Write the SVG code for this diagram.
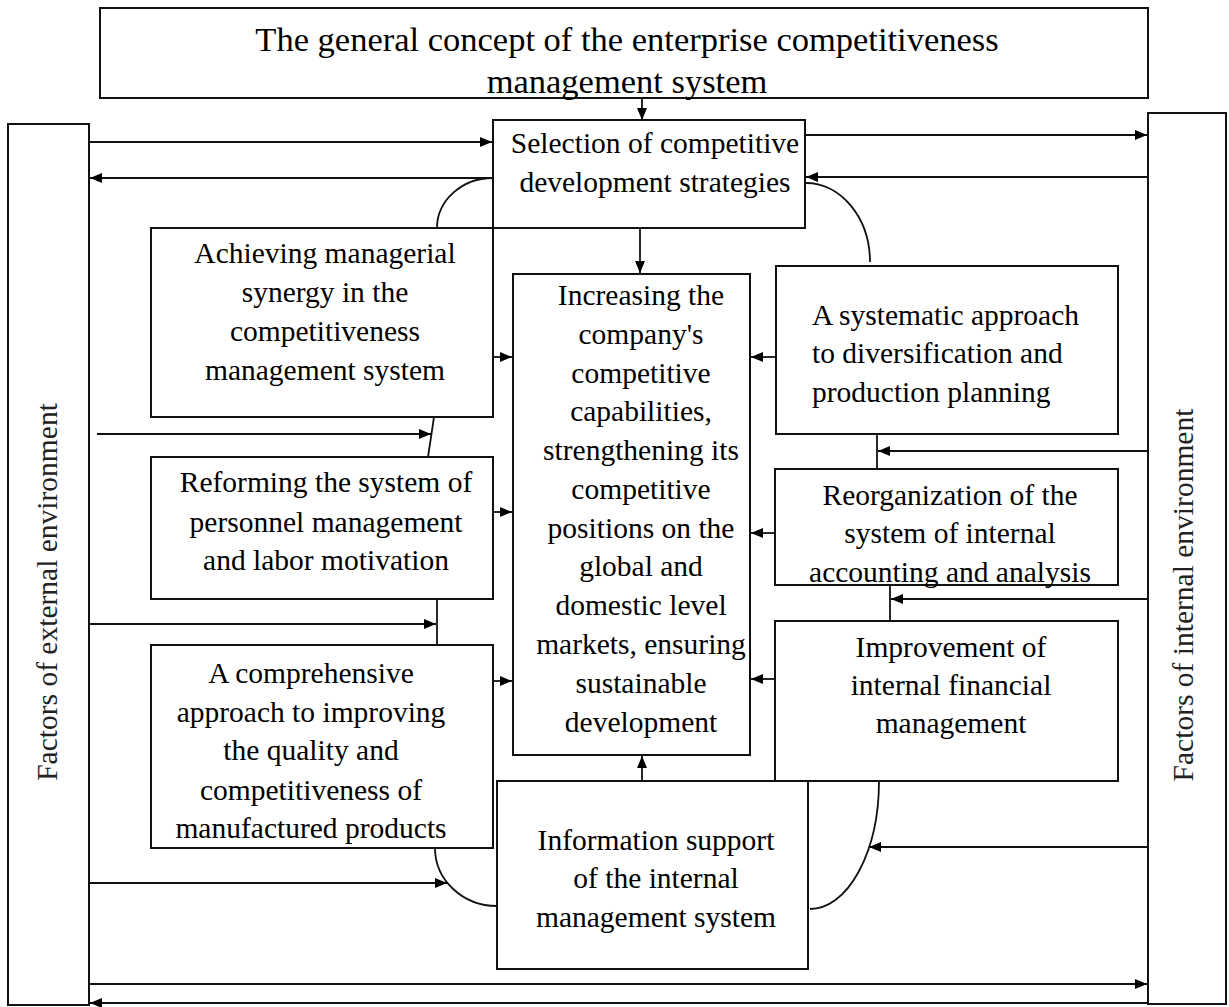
<svg xmlns="http://www.w3.org/2000/svg" width="1229" height="1007" viewBox="0 0 1229 1007">
  <style>
    .box { fill: #ffffff; stroke: #111111; stroke-width: 2; }
    .txt { font-family: "Liberation Serif", "Times New Roman", serif; font-size: 29.5px; fill: #000000; text-anchor: middle; }
    .title { font-size: 34.5px; }
    .side { fill: #222222; }
    .left { text-anchor: start; }
    .ln { fill: none; stroke: #111111; stroke-width: 1.8; }
    .arr { marker-end: url(#head); }
  </style>
  <defs>
    <marker id="head" markerUnits="userSpaceOnUse" markerWidth="13" markerHeight="11" refX="12" refY="5" orient="auto">
      <path d="M0,0 L12,5 L0,10 z" fill="#000000"/>
    </marker>
  </defs>

  <rect width="1229" height="1007" fill="#ffffff"/>

  <!-- connectors -->
  <g id="connectors">
    <!-- title to strategy selection -->
    <line class="ln arr" x1="642" y1="98" x2="642" y2="120"/>
    <!-- external environment exchange with strategy selection -->
    <line class="ln arr" x1="89" y1="142" x2="492" y2="142"/>
    <line class="ln arr" x1="493" y1="178" x2="90" y2="178"/>
    <!-- internal environment exchange with strategy selection -->
    <line class="ln arr" x1="805" y1="135" x2="1147" y2="135"/>
    <line class="ln arr" x1="1148" y1="177" x2="806" y2="177"/>
    <!-- curved links from strategy selection -->
    <path class="ln" d="M493,178 A56,50 0 0 0 437,228"/>
    <path class="ln" d="M806,183 A64,79 0 0 1 870,262"/>
    <!-- strategy selection to core goal -->
    <line class="ln arr" x1="640" y1="228" x2="640" y2="273"/>
    <!-- left column links -->
    <line class="ln" x1="434" y1="417" x2="428" y2="457"/>
    <line class="ln arr" x1="97" y1="434" x2="431" y2="434"/>
    <line class="ln" x1="437" y1="599" x2="437" y2="645"/>
    <line class="ln arr" x1="89" y1="624" x2="436" y2="624"/>
    <path class="ln" d="M435,848 A62,58 0 0 0 497,906"/>
    <line class="ln arr" x1="89" y1="883" x2="447" y2="883"/>
    <!-- left boxes into core goal -->
    <line class="ln arr" x1="493" y1="357" x2="512" y2="357"/>
    <line class="ln arr" x1="493" y1="512" x2="512" y2="512"/>
    <line class="ln arr" x1="493" y1="681" x2="512" y2="681"/>
    <!-- right boxes into core goal -->
    <line class="ln arr" x1="776" y1="357" x2="751" y2="357"/>
    <line class="ln arr" x1="775" y1="533" x2="751" y2="533"/>
    <line class="ln arr" x1="775" y1="679" x2="751" y2="679"/>
    <!-- right column links -->
    <line class="ln" x1="877" y1="434" x2="877" y2="469"/>
    <line class="ln arr" x1="1148" y1="451" x2="878" y2="451"/>
    <line class="ln" x1="890" y1="585" x2="890" y2="621"/>
    <line class="ln arr" x1="1148" y1="599" x2="891" y2="599"/>
    <path class="ln" d="M879,781 A69,128 0 0 1 810,909"/>
    <line class="ln arr" x1="1148" y1="847" x2="869" y2="847"/>
    <!-- information support to core goal -->
    <line class="ln arr" x1="642" y1="781" x2="642" y2="756"/>
    <!-- bottom exchange between environments -->
    <line class="ln arr" x1="89" y1="984" x2="1147" y2="984"/>
    <line class="ln arr" x1="1148" y1="1003" x2="90" y2="1003"/>
  </g>

  <g id="title">
    <rect class="box" x="100" y="8" width="1048" height="90"/>
    <text class="txt title" x="627" y="51">The general concept of the enterprise competitiveness</text>
    <text class="txt title" x="627" y="93">management system</text>
  </g>

  <g id="external">
    <rect class="box" x="8" y="124" width="81" height="881"/>
    <text class="txt side" transform="translate(57,592) rotate(-90)" x="0" y="0">Factors of external environment</text>
  </g>

  <g id="internal">
    <rect class="box" x="1148" y="113" width="78" height="891"/>
    <text class="txt side" transform="translate(1193,595) rotate(-90)" x="0" y="0">Factors of internal environment</text>
  </g>

  <g id="selection">
    <rect class="box" x="493" y="120" width="312" height="108"/>
    <text class="txt" x="655" y="153">Selection of competitive</text>
    <text class="txt" x="655" y="192">development strategies</text>
  </g>

  <g id="achieving">
    <rect class="box" x="151" y="228" width="342" height="189"/>
    <text class="txt" x="325" y="263">Achieving managerial</text>
    <text class="txt" x="325" y="302">synergy in the</text>
    <text class="txt" x="325" y="341">competitiveness</text>
    <text class="txt" x="325" y="380">management system</text>
  </g>

  <g id="reforming">
    <rect class="box" x="151" y="457" width="342" height="142"/>
    <text class="txt" x="326" y="492">Reforming the system of</text>
    <text class="txt" x="326" y="532">personnel management</text>
    <text class="txt" x="326" y="570">and labor motivation</text>
  </g>

  <g id="comprehensive">
    <rect class="box" x="151" y="645" width="342" height="203"/>
    <text class="txt" x="311" y="683">A comprehensive</text>
    <text class="txt" x="311" y="722">approach to improving</text>
    <text class="txt" x="311" y="760">the quality and</text>
    <text class="txt" x="311" y="800">competitiveness of</text>
    <text class="txt" x="311" y="838">manufactured products</text>
  </g>

  <g id="goal">
    <rect class="box" x="513" y="274" width="237" height="481"/>
    <text class="txt" x="641" y="305">Increasing the</text>
    <text class="txt" x="641" y="344">company's</text>
    <text class="txt" x="641" y="383">competitive</text>
    <text class="txt" x="641" y="421">capabilities,</text>
    <text class="txt" x="641" y="460">strengthening its</text>
    <text class="txt" x="641" y="499">competitive</text>
    <text class="txt" x="641" y="538">positions on the</text>
    <text class="txt" x="641" y="576">global and</text>
    <text class="txt" x="641" y="615">domestic level</text>
    <text class="txt" x="641" y="654">markets, ensuring</text>
    <text class="txt" x="641" y="693">sustainable</text>
    <text class="txt" x="641" y="732">development</text>
  </g>

  <g id="systematic">
    <rect class="box" x="776" y="266" width="342" height="168"/>
    <text class="txt left" x="812" y="325">A systematic approach</text>
    <text class="txt left" x="812" y="363">to diversification and</text>
    <text class="txt left" x="812" y="402">production planning</text>
  </g>

  <g id="reorganization">
    <rect class="box" x="775" y="469" width="343" height="116"/>
    <text class="txt" x="950" y="505">Reorganization of the</text>
    <text class="txt" x="950" y="543">system of internal</text>
    <text class="txt" x="950" y="582">accounting and analysis</text>
  </g>

  <g id="finance">
    <rect class="box" x="775" y="621" width="343" height="160"/>
    <text class="txt" x="951" y="657">Improvement of</text>
    <text class="txt" x="951" y="695">internal financial</text>
    <text class="txt" x="951" y="733">management</text>
  </g>

  <g id="information">
    <rect class="box" x="497" y="781" width="311" height="188"/>
    <text class="txt" x="656" y="850">Information support</text>
    <text class="txt" x="656" y="888">of the internal</text>
    <text class="txt" x="656" y="927">management system</text>
  </g>
</svg>
